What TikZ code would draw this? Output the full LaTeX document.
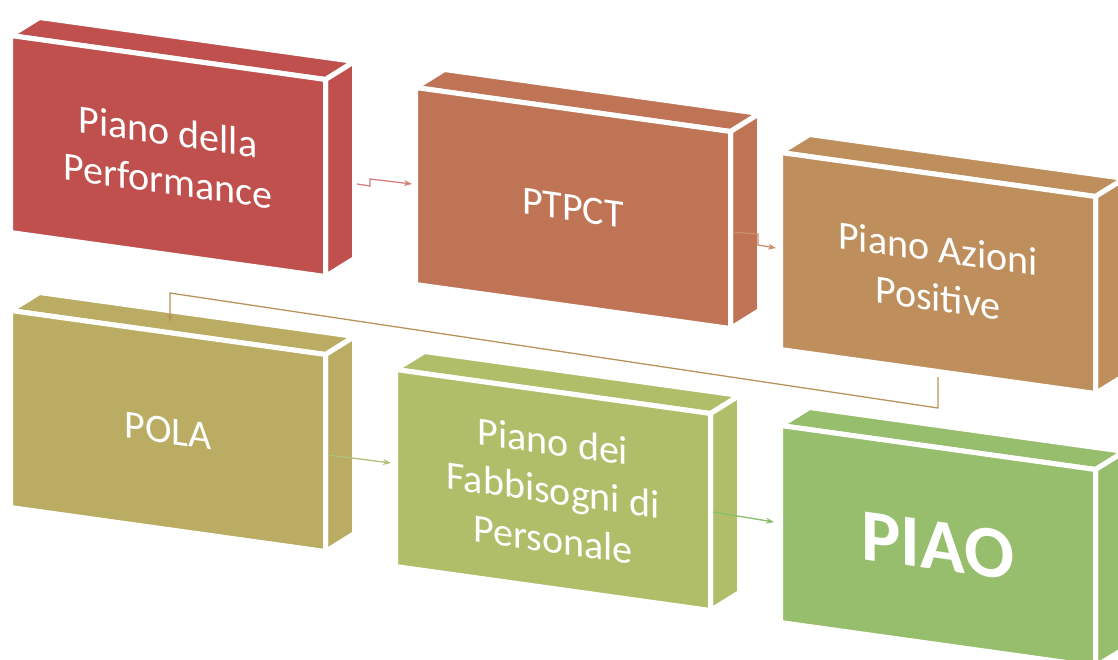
\documentclass[tikz,border=0pt]{standalone}
\usepackage{fontspec}
\setmainfont{Carlito}
\usetikzlibrary{arrows.meta,calc}
\definecolor{cA}{HTML}{C0504D}
\definecolor{cB}{HTML}{C07456}
\definecolor{cC}{HTML}{BE8F5C}
\definecolor{cD}{HTML}{BAAC62}
\definecolor{cE}{HTML}{B0BE69}
\definecolor{cF}{HTML}{96BE6C}
\definecolor{kA}{HTML}{D4807C}
\definecolor{kB}{HTML}{C98F6C}
\definecolor{kC}{HTML}{B8935E}
\definecolor{kD}{HTML}{B2C07A}
\definecolor{kE}{HTML}{88BE6C}
\tikzset{
  face/.style={draw=white, line width=5pt, line join=miter},
  lbl/.style={text=white, font=\fontsize{40}{49}\selectfont, align=center, inner sep=0pt},
  conn/.style={line width=1.3pt, -{Stealth[length=8pt,width=6pt]}},
}
\newcommand\cuboid[4]{%
  \coordinate (#1-A) at (#2-2.5,#3-2.5);
  \coordinate (#1-B) at ($(#1-A)+(315,44)$);
  \coordinate (#1-C) at ($(#1-B)+(0,197)$);
  \coordinate (#1-D) at ($(#1-A)+(0,197)$);
  \coordinate (#1-E) at ($(#1-A)+(29,-18)$);
  \coordinate (#1-F) at ($(#1-B)+(29,-18)$);
  \coordinate (#1-G) at ($(#1-C)+(29,-18)$);
  \coordinate (#1-M) at ($(#1-A)!0.5!(#1-C)$);
  \filldraw[face, fill=#4] (#1-A) -- (#1-E) -- (#1-F) -- (#1-B) -- cycle;
  \filldraw[face, fill=#4] (#1-B) -- (#1-F) -- (#1-G) -- (#1-C) -- cycle;
  \filldraw[face, fill=#4] (#1-A) -- (#1-B) -- (#1-C) -- (#1-D) -- cycle;
}
\begin{document}
\begin{tikzpicture}[x=1pt,y=-1pt]
\useasboundingbox (0,0) rectangle (1118,659);
\cuboid{b1}{13}{38}{cA}
\cuboid{b2}{418}{90}{cB}
\cuboid{b3}{783}{155}{cC}
\cuboid{b4}{13}{313}{cD}
\cuboid{b5}{398}{372}{cE}
\cuboid{b6}{783}{428}{cF}

\begin{scope}[shift={(b1-M)}, yslant=-0.14]
  \node[lbl, transform shape] (t1) at (0,0) {Piano della\\Performance};
\end{scope}
\begin{scope}[shift={(b2-M)}, yslant=-0.14]
  \node[lbl, transform shape] (t2) at (0,0) {PTPCT};
\end{scope}
\begin{scope}[shift={(b3-M)}, yslant=-0.14]
  \node[lbl, transform shape] (t3) at (0,0) {Piano Azioni\\Positive};
\end{scope}
\begin{scope}[shift={(b4-M)}, yslant=-0.14]
  \node[lbl, transform shape] (t4) at (0,0) {POLA};
\end{scope}
\begin{scope}[shift={(b5-M)}, yslant=-0.14]
  \node[lbl, transform shape] (t5) at (0,0) {Piano dei\\Fabbisogni di\\Personale};
\end{scope}
\begin{scope}[shift={(b6-M)}, yslant=-0.14]
  \node[lbl, transform shape, font=\fontsize{74}{80}\selectfont\bfseries] (t6) at (0,0) {PIAO};
\end{scope}

\coordinate (k1a) at (357,184);
\coordinate (k1b) at (370,186);
\coordinate (k1c) at (370,179);
\coordinate (k1d) at (412,184);
\draw[conn, kA] (k1a) -- (k1b) -- (k1c) -- (k1d);

\coordinate (k2a) at (733,232);
\coordinate (k2b) at (758,234);
\coordinate (k2c) at (758,245);
\coordinate (k2d) at (776,248);
\draw[conn, kB] (k2a) -- (k2b) -- (k2c) -- (k2d);

\coordinate (k3a) at (938,377);
\coordinate (k3b) at (938,408);
\coordinate (k3c) at (170,293);
\coordinate (k3d) at (170,322);
\draw[conn, kC] (k3a) -- (k3b) -- (k3c) -- (k3d);

\coordinate (k4a) at (328,455);
\coordinate (k4b) at (391,463);
\draw[conn, kD] (k4a) -- (k4b);

\coordinate (k5a) at (713,512);
\coordinate (k5b) at (774,522);
\draw[conn, kE] (k5a) -- (k5b);
\end{tikzpicture}
\end{document}
